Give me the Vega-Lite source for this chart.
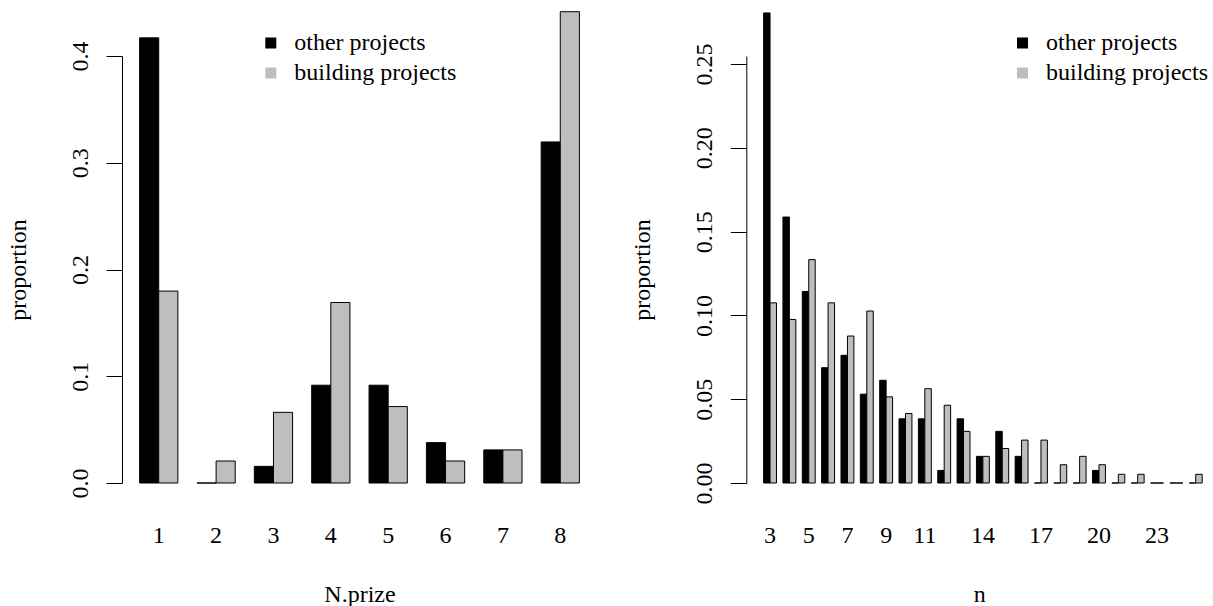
{
  "$schema": "https://vega.github.io/schema/vega-lite/v6.json",
  "background": "white",
  "padding": {"left": 6, "top": 11, "right": 1, "bottom": 0},
  "bounds": "flush",
  "spacing": 149.3,
  "datasets": {
    "prize": [
      {"k": 1, "series": "other projects", "p": 0.417},
      {"k": 2, "series": "other projects", "p": 0},
      {"k": 3, "series": "other projects", "p": 0.0156},
      {"k": 4, "series": "other projects", "p": 0.0916},
      {"k": 5, "series": "other projects", "p": 0.0916},
      {"k": 6, "series": "other projects", "p": 0.0378},
      {"k": 7, "series": "other projects", "p": 0.031},
      {"k": 8, "series": "other projects", "p": 0.3195},
      {"k": 1, "series": "building projects", "p": 0.1798},
      {"k": 2, "series": "building projects", "p": 0.0206},
      {"k": 3, "series": "building projects", "p": 0.0662},
      {"k": 4, "series": "building projects", "p": 0.1691},
      {"k": 5, "series": "building projects", "p": 0.0716},
      {"k": 6, "series": "building projects", "p": 0.0206},
      {"k": 7, "series": "building projects", "p": 0.031},
      {"k": 8, "series": "building projects", "p": 0.4415}
    ],
    "nsize": [
      {"n": 3, "series": "other projects", "p": 0.2805},
      {"n": 4, "series": "other projects", "p": 0.1587},
      {"n": 5, "series": "other projects", "p": 0.1143},
      {"n": 6, "series": "other projects", "p": 0.0688},
      {"n": 7, "series": "other projects", "p": 0.0762},
      {"n": 8, "series": "other projects", "p": 0.053},
      {"n": 9, "series": "other projects", "p": 0.0613},
      {"n": 10, "series": "other projects", "p": 0.0383},
      {"n": 11, "series": "other projects", "p": 0.0383},
      {"n": 12, "series": "other projects", "p": 0.0075},
      {"n": 13, "series": "other projects", "p": 0.0383},
      {"n": 14, "series": "other projects", "p": 0.0159},
      {"n": 15, "series": "other projects", "p": 0.0308},
      {"n": 16, "series": "other projects", "p": 0.0159},
      {"n": 17, "series": "other projects", "p": 0},
      {"n": 18, "series": "other projects", "p": 0},
      {"n": 19, "series": "other projects", "p": 0},
      {"n": 20, "series": "other projects", "p": 0.0075},
      {"n": 21, "series": "other projects", "p": 0},
      {"n": 22, "series": "other projects", "p": 0},
      {"n": 23, "series": "other projects", "p": 0},
      {"n": 24, "series": "other projects", "p": 0},
      {"n": 25, "series": "other projects", "p": 0},
      {"n": 3, "series": "building projects", "p": 0.1075},
      {"n": 4, "series": "building projects", "p": 0.0976},
      {"n": 5, "series": "building projects", "p": 0.1333},
      {"n": 6, "series": "building projects", "p": 0.1075},
      {"n": 7, "series": "building projects", "p": 0.0877},
      {"n": 8, "series": "building projects", "p": 0.1026},
      {"n": 9, "series": "building projects", "p": 0.0514},
      {"n": 10, "series": "building projects", "p": 0.0415},
      {"n": 11, "series": "building projects", "p": 0.0563},
      {"n": 12, "series": "building projects", "p": 0.0464},
      {"n": 13, "series": "building projects", "p": 0.0308},
      {"n": 14, "series": "building projects", "p": 0.0159},
      {"n": 15, "series": "building projects", "p": 0.0206},
      {"n": 16, "series": "building projects", "p": 0.0256},
      {"n": 17, "series": "building projects", "p": 0.0256},
      {"n": 18, "series": "building projects", "p": 0.0109},
      {"n": 19, "series": "building projects", "p": 0.0159},
      {"n": 20, "series": "building projects", "p": 0.0109},
      {"n": 21, "series": "building projects", "p": 0.0052},
      {"n": 22, "series": "building projects", "p": 0.0052},
      {"n": 23, "series": "building projects", "p": 0},
      {"n": 24, "series": "building projects", "p": 0},
      {"n": 25, "series": "building projects", "p": 0.0052}
    ]
  },
  "resolve": {
    "scale": {"x": "independent", "xOffset": "independent", "y": "independent", "color": "independent"},
    "axis": {"x": "independent", "y": "independent"},
    "legend": {"color": "independent"}
  },
  "hconcat": [
    {
      "width": 475,
      "height": 427,
      "data": {"name": "prize"},
      "mark": {"type": "bar", "stroke": "black", "strokeWidth": 1, "stack": null},
      "encoding": {
        "x": {
          "field": "k", "type": "ordinal", "title": "N.prize",
          "scale": {"paddingInner": 0.3333, "paddingOuter": 0.307, "align": 0.5, "round": false}
        },
        "xOffset": {
          "field": "series", "type": "nominal",
          "sort": ["other projects", "building projects"],
          "scale": {"paddingInner": 0, "paddingOuter": 0, "round": false}
        },
        "y": {
          "field": "p", "type": "quantitative", "title": "proportion", "stack": null,
          "scale": {"domain": [0, 0.4], "nice": false, "zero": true},
          "axis": {"values": [0, 0.1, 0.2, 0.3, 0.4], "format": ".1f"}
        },
        "color": {
          "field": "series", "type": "nominal",
          "scale": {"domain": ["other projects", "building projects"], "range": ["#000000", "#BEBEBE"]},
          "legend": {"orient": "none", "legendX": 136.8, "legendY": -25, "title": null}
        }
      }
    },
    {
      "width": 466,
      "height": 427,
      "data": {"name": "nsize"},
      "mark": {"type": "bar", "stroke": "black", "strokeWidth": 1, "stack": null},
      "encoding": {
        "x": {
          "field": "n", "type": "ordinal", "title": "n",
          "scale": {"paddingInner": 0.3333, "paddingOuter": 0.708, "align": 0.631, "round": false},
          "axis": {"values": [3, 5, 7, 9, 11, 14, 17, 20, 23]}
        },
        "xOffset": {
          "field": "series", "type": "nominal",
          "sort": ["other projects", "building projects"],
          "scale": {"paddingInner": 0, "paddingOuter": 0, "round": false}
        },
        "y": {
          "field": "p", "type": "quantitative", "title": "proportion", "stack": null,
          "scale": {"domain": [0, 0.2548], "nice": false, "zero": true},
          "axis": {"values": [0, 0.05, 0.1, 0.15, 0.2, 0.25], "format": ".2f"}
        },
        "color": {
          "field": "series", "type": "nominal",
          "scale": {"domain": ["other projects", "building projects"], "range": ["#000000", "#BEBEBE"]},
          "legend": {"orient": "none", "legendX": 264.2, "legendY": -25, "title": null}
        }
      }
    }
  ],
  "config": {
    "font": "Liberation Serif",
    "view": {"stroke": null},
    "axisY": {
      "grid": false, "domainColor": "black", "domainWidth": 1, "tickColor": "black", "tickWidth": 1,
      "tickSize": 16, "labelAngle": 270, "labelAlign": "center", "labelBaseline": "alphabetic",
      "labelPadding": 19, "labelFont": "Liberation Serif", "labelFontSize": 24, "labelColor": "black",
      "labelOverlap": false, "labelFlush": false,
      "titleFont": "Liberation Serif", "titleFontSize": 24, "titleFontWeight": "normal", "titleColor": "black",
      "titleBaseline": "alphabetic", "titlePadding": 36.4, "minExtent": 60, "maxExtent": 60
    },
    "axisX": {
      "grid": false, "domain": false, "ticks": false, "tickSize": 0, "labelAngle": 0,
      "labelBaseline": "alphabetic", "labelAlign": "center", "labelPadding": 59.4,
      "labelFont": "Liberation Serif", "labelFontSize": 24, "labelColor": "black", "labelOverlap": false,
      "titleFont": "Liberation Serif", "titleFontSize": 24, "titleFontWeight": "normal", "titleColor": "black",
      "titleBaseline": "alphabetic", "titlePadding": 58.7, "minExtent": 60, "maxExtent": 60
    },
    "legend": {
      "padding": 0, "symbolType": "square", "symbolSize": 121, "symbolStrokeWidth": 0,
      "symbolOpacity": 1, "labelFont": "Liberation Serif", "labelFontSize": 24, "labelColor": "black",
      "labelOffset": 11.5, "rowPadding": 6, "labelLimit": 400
    }
  }
}
